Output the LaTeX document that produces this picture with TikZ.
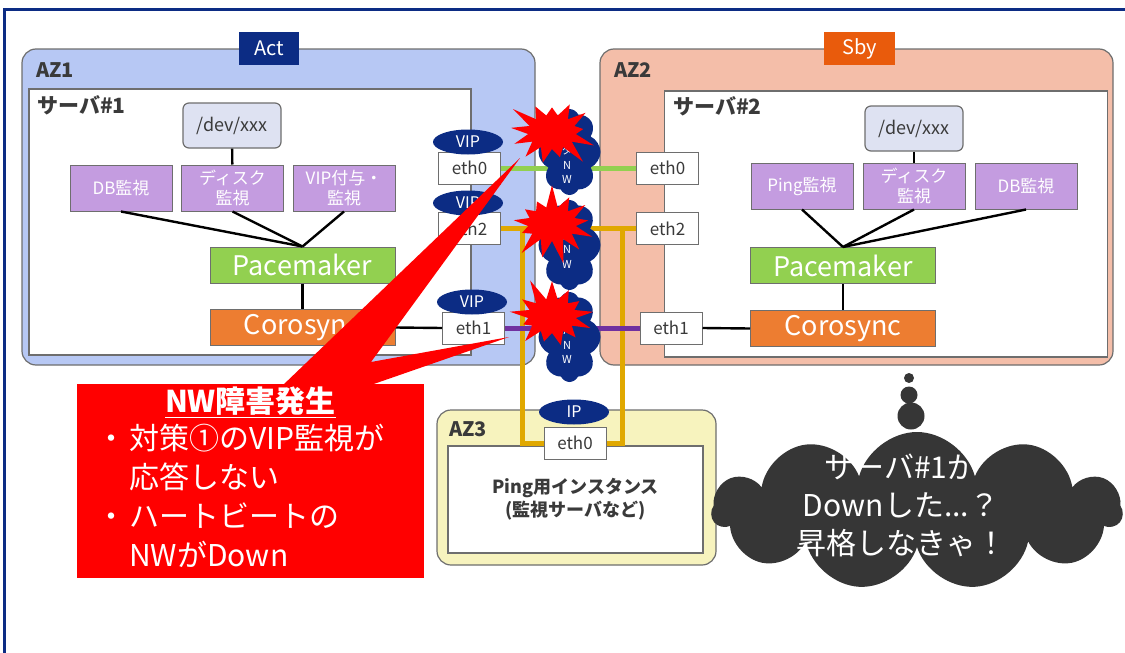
\documentclass[tikz,border=0pt]{standalone}
\usepackage{fontspec}
\setmainfont{Noto Sans CJK JP}
\usetikzlibrary{positioning,shapes.geometric,shapes.symbols}
\definecolor{navy}{HTML}{0C2C84}
\definecolor{azblue}{HTML}{B7C8F4}
\definecolor{azsalmon}{HTML}{F4BEA9}
\definecolor{azyellow}{HTML}{F7F3BE}
\definecolor{sbyorange}{HTML}{E95B0C}
\definecolor{devgray}{HTML}{DEE2F2}
\definecolor{monpurple}{HTML}{C49CE0}
\definecolor{pmgreen}{HTML}{92D050}
\definecolor{csorange}{HTML}{ED7D31}
\definecolor{hbpurple}{HTML}{7030A0}
\definecolor{gold}{HTML}{E0A800}
\definecolor{edge}{HTML}{6E6E6E}
\definecolor{ink}{HTML}{3A3A3A}
\definecolor{thought}{HTML}{363636}
\newcommand{\fsz}[2]{\fontsize{#1}{#2}\selectfont}
\tikzset{
  zone/.style={draw=edge, line width=1.2pt, rounded corners=14pt, inner sep=0pt},
  zonelabel/.style={text=ink, inner sep=0pt, font=\bfseries\fsz{20}{24}},
  tag/.style={fill=#1, text=white, minimum width=60, minimum height=33, inner sep=0pt, font=\fsz{20}{24}},
  srv/.style={draw=edge, line width=1.2pt, fill=white, inner sep=0pt},
  dev/.style={draw=edge, line width=1.2pt, fill=devgray, rounded corners=6pt, text=ink,
              minimum width=98, minimum height=45, inner sep=0pt, font=\fsz{18}{20}},
  mon/.style={draw=edge, line width=1pt, fill=monpurple, text=white, align=center,
              minimum width=102, minimum height=46, inner sep=0pt, font=\fsz{17}{20}},
  proc/.style={draw=edge, line width=1pt, fill=#1, text=white, minimum width=185,
               minimum height=36, inner sep=0pt, font=\fsz{27}{30}},
  nic/.style={draw=edge, line width=1pt, fill=white, text=ink, minimum width=62,
              minimum height=32, inner sep=0pt, font=\fsz{17}{20}},
  vip/.style={ellipse, fill=navy, text=white, minimum width=70, minimum height=25,
              inner sep=0pt, font=\fsz{16}{18}},
  nwcloud/.style={cloud, cloud puffs=8, cloud puff arc=130, cloud ignores aspect, fill=navy,
                  minimum width=62, minimum height=90, inner sep=0pt},
  nwtext/.style={text=white, align=center, inner sep=0pt, font=\fsz{11}{14.5}},
  burst/.style={starburst, fill=red, minimum width=96pt, minimum height=82pt, inner sep=0pt,
                starburst points=13, starburst point height=24pt},
  wire/.style={line width=2.4pt},
  link/.style={line width=5pt, #1},
  dot/.style={circle, fill=thought, inner sep=0pt},
}

\begin{document}
\begin{tikzpicture}[x=1pt, y=-1pt]
  \useasboundingbox (0,0) rectangle (1125,653);
  \draw[navy, line width=3pt] (4.5,653) |- (1125,9.5);

  % AZ1: active server
  \node[zone, fill=azblue, minimum width=513, minimum height=316] (az1) at (278.5,207) {};
  \node[tag=navy] (act) at (269,48) {Act};
  \node[zonelabel, anchor=west] (az1t) at (36,70) {AZ1};
  \node[srv, minimum width=442, minimum height=266] (srv1) at (250,222) {};
  \node[zonelabel, anchor=west, font=\bfseries\fsz{21}{24}] (srv1t) at (37,105) {サーバ\#1};
  \node[dev] (dev1) at (232,125.5) {/dev/xxx};
  \node[mon] (db1) at (121,188) {DB監視};
  \node[mon, right=8.5pt of db1] (disk1) {ディスク\\監視};
  \node[mon, right=8.5pt of disk1] (vipmon1) {VIP付与・\\監視};
  \node[proc=pmgreen] (pace1) at (302.5,265) {Pacemaker};
  \node[proc=csorange] (coro1) at (302.5,327.5) {Corosync};

  % AZ2: standby server
  \node[zone, fill=azsalmon, minimum width=513, minimum height=316] (az2) at (856.5,207) {};
  \node[tag=sbyorange, minimum width=71] (sby) at (859.5,48.5) {Sby};
  \node[zonelabel, anchor=west] (az2t) at (614,70) {AZ2};
  \node[srv, minimum width=443, minimum height=266] (srv2) at (886,224) {};
  \node[zonelabel, anchor=west, font=\bfseries\fsz{21}{24}] (srv2t) at (673,106) {サーバ\#2};
  \node[dev] (dev2) at (914,128.5) {/dev/xxx};
  \node[mon] (ping2) at (802,186) {Ping監視};
  \node[mon, right=9pt of ping2] (disk2) {ディスク\\監視};
  \node[mon, right=9pt of disk2] (db2) {DB監視};
  \node[proc=pmgreen] (pace2) at (843,265.5) {Pacemaker};
  \node[proc=csorange] (coro2) at (843,328.5) {Corosync};

  % AZ3: ping target
  \node[zone, fill=azyellow, minimum width=279, minimum height=155] (az3) at (576.5,487.5) {};
  \node[zonelabel, anchor=west] (az3t) at (449,429) {AZ3};
  \node[srv, text=ink, align=center, minimum width=255, minimum height=107,
        font=\bfseries\fsz{18}{23}] (pinghost) at (575.5,499.5) {Ping用インスタンス\\(監視サーバなど)};

  % inside the servers
  \foreach \m in {db1,disk1,vipmon1} \draw[wire] (\m.south) -- (pace1.north);
  \foreach \m in {ping2,disk2,db2} \draw[wire] (\m.south) -- (pace2.north);
  \draw[wire] (dev1) -- (disk1);
  \draw[wire] (dev2) -- (disk2);
  \draw[wire] (pace1) -- (coro1);
  \draw[wire] (pace2) -- (coro2);

  % interfaces
  \node[nic] (e0a) at (469.5,168) {eth0};
  \node[nic] (e2a) at (469.5,228.5) {eth2};
  \node[nic] (e1a) at (473.5,328) {eth1};
  \node[nic] (e0b) at (667.5,168) {eth0};
  \node[nic] (e2b) at (667.5,228.5) {eth2};
  \node[nic] (e1b) at (671,328) {eth1};
  \node[nic] (e0c) at (575,443) {eth0};
  \coordinate (gl) at (522,229);
  \coordinate (gr) at (622,229);

  \draw[wire] (coro1.east) -- (e1a.west);
  \draw[wire] (coro2.west) -- (e1b.east);
  \draw[link=pmgreen] (e0a.east) -- (e0b.west);
  \draw[link=gold] (e2a.east) -- (e2b.west);
  \draw[link=gold] (gl) |- (e0c.west);
  \draw[link=gold] (gr) |- (e0c.east);
  \draw[link=hbpurple] (e1a.east) -- (e1b.west);

  \node[vip] (vip0) at (468,142) {VIP};
  \node[vip] (vip2) at (468,203) {VIP};
  \node[vip] (vip1) at (472,302) {VIP};
  \node[vip] (ip) at (574,412) {IP};

  % networks between the zones, all down
  \node[nwcloud, minimum height=86] (nw0) at (569.5,152) {};
  \node[nwcloud] (nw2) at (569.5,245) {};
  \node[nwcloud] (nw1) at (569.5,337) {};
  \node[nwtext] (nw0t) at (567,165) {タ\\N\\W};
  \node[nwtext] (nw2t) at (567,249) {視\\N\\W};
  \node[nwtext] (nw1t) at (567,345) {A\\N\\W};
  \node[burst, random starburst=3] (bang0) at (552,132) {};
  \node[burst, random starburst=7] (bang2) at (552,224) {};
  \node[burst, random starburst=11] (bang1) at (552,316) {};

  % failure callout
  \node[fill=red, minimum width=347, minimum height=194, inner sep=0pt] (alert) at (250.5,481) {};
  \fill[red] (282,386) -- (520,158) -- (371,362) -- (509,337) -- (368,386) -- cycle;
  \node[text=white, inner sep=0pt, font=\bfseries\fsz{30}{36}] (alertt) at (250.5,402) {\underline{NW障害発生}};
  \node[text=white, align=left, anchor=north west, inner sep=0pt, font=\fsz{30}{39}] (alertb) at (93,424)
    {\makebox[36pt][c]{・}対策①のVIP監視が\\\hspace*{36pt}応答しない\\\makebox[36pt][c]{・}ハートビートの\\\hspace*{36pt}NWがDown};

  % standby side thinks
  \node[dot, minimum size=10] (d1) at (909,378) {};
  \node[dot, minimum size=17] (d2) at (909,395) {};
  \node[dot, minimum size=27] (d3) at (911,416) {};
  \node[cloud, cloud puffs=11, cloud ignores aspect, fill=thought, minimum width=410,
        minimum height=158, inner sep=0pt] (think) at (917,511) {};
  \node[text=white, align=center, inner sep=0pt, font=\fsz{30}{38}] (thinkt) at (901,505)
    {サーバ\#1\symbol{"304C}\\Downした...？\\昇格しなきゃ！};
\end{tikzpicture}
\end{document}
